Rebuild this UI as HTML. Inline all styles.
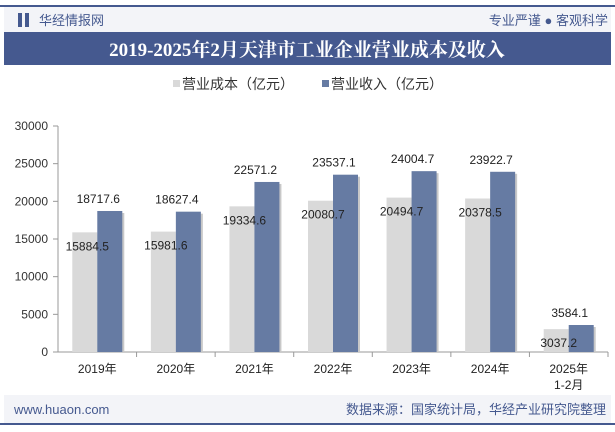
<!DOCTYPE html>
<html><head><meta charset="utf-8"><style>
body{margin:0;width:615px;height:427px;background:#fff;overflow:hidden;font-family:"Liberation Sans","Noto Sans CJK SC",sans-serif}
</style></head><body>
<svg width="615" height="427" xmlns="http://www.w3.org/2000/svg" font-family="Liberation Sans, Noto Sans CJK SC, sans-serif">
<rect x="0" y="5" width="615" height="2" fill="#45598f"/>
<rect x="4" y="7" width="607" height="25" fill="#f3f4f8"/>
<rect x="18" y="13" width="4" height="14" fill="#45598f"/><rect x="25" y="13" width="4" height="14" fill="#45598f"/>
<text x="39" y="25" font-size="13" fill="#45598f">华经情报网</text>
<text x="608" y="25" font-size="13" fill="#45598f" text-anchor="end">专业严谨 ● 客观科学</text>
<rect x="4" y="32" width="607" height="33" fill="#45598f"/>
<text x="307" y="56" font-size="19" font-weight="bold" fill="#fff" text-anchor="middle" font-family="Liberation Serif, Noto Serif CJK SC, serif">2019-2025年2月天津市工业企业营业成本及收入</text>
<g>
<rect x="173" y="80" width="7" height="7" fill="#d9d9d9"/>
<text x="182" y="89" font-size="14" fill="#333">营业成本（亿元）</text>
<rect x="322" y="80" width="7" height="7" fill="#667ba3"/>
<text x="331" y="89" font-size="14" fill="#333">营业收入（亿元）</text>
</g>
<g id="plot"></g>
<rect x="4" y="395" width="607" height="28" fill="#f3f4f8"/>
<rect x="0" y="423" width="615" height="2" fill="#45598f"/>
<text x="14" y="414" font-size="13" fill="#45598f">www.huaon.com</text>
<text x="606" y="414" font-size="13" fill="#45598f" text-anchor="end">数据来源：国家统计局，华经产业研究院整理</text>
</svg>
<script>
const categories=["2019年","2020年","2021年","2022年","2023年","2024年","2025年|1-2月"];
const costValues=[15884.5,15981.6,19334.6,20080.7,20494.7,20378.5,3037.2];
const revenueValues=[18717.6,18627.4,22571.2,23537.1,24004.7,23922.7,3584.1];
const yTicks=[0,5000,10000,15000,20000,25000,30000];
const NS="http://www.w3.org/2000/svg";
const g=document.getElementById('plot');
const x0=58,x1=608,y0=352,y1=126,yMax=30000;
const band=(x1-x0)/categories.length;
const y=v=>y0-(v/yMax)*(y0-y1);
const xc=i=>x0+band*(i+0.5);
function mk(t,a,txt){const e=document.createElementNS(NS,t);for(const k in a)e.setAttribute(k,a[k]);if(txt!==undefined)e.textContent=txt;g.appendChild(e);return e;}
yTicks.forEach(v=>{
const t=mk('text',{x:48,y:y(v)+4,'font-size':12,fill:'#333','text-anchor':'end'},String(v));


const l=mk('line',{x1:53,x2:58,y1:y(v),y2:y(v),stroke:'#999'});


});
const ax=mk('line',{x1:58,x2:58,y1:y1,y2:y0,stroke:'#999'});


const bx=mk('line',{x1:x0,x2:x1,y1:y0,y2:y0,stroke:'#999'});


const bw=25;
categories.forEach((c,i)=>{
const cx=xc(i);
const tk=mk('line',{x1:x0+band*(i+1),x2:x0+band*(i+1),y1:y0,y2:y0+5,stroke:'#999'});


mk('rect',{x:cx-bw+2,y:y(costValues[i])+2,width:bw,height:y0-y(costValues[i])-2,fill:'#e8e8e8'});
const b1=mk('rect',{x:cx-bw,y:y(costValues[i]),width:bw,height:y0-y(costValues[i]),fill:'#d9d9d9'});


mk('rect',{x:cx+2,y:y(revenueValues[i])+2,width:bw,height:y0-y(revenueValues[i])-2,fill:'#c8c8c8'});
const b2=mk('rect',{x:cx,y:y(revenueValues[i]),width:bw,height:y0-y(revenueValues[i]),fill:'#667ba3'});


const l1=mk('text',{x:cx-10,y:y(costValues[i])+18,'font-size':12,fill:'#222','text-anchor':'middle'},costValues[i].toFixed(1));


const l2=mk('text',{x:cx+1,y:y(revenueValues[i])-8,'font-size':12,fill:'#222','text-anchor':'middle'},revenueValues[i].toFixed(1));


c.split('|').forEach((p,j)=>{
const t=mk('text',{x:cx,y:373+j*16,'font-size':12,fill:'#222','text-anchor':'middle'},p);


});
});
</script>
</body></html>
